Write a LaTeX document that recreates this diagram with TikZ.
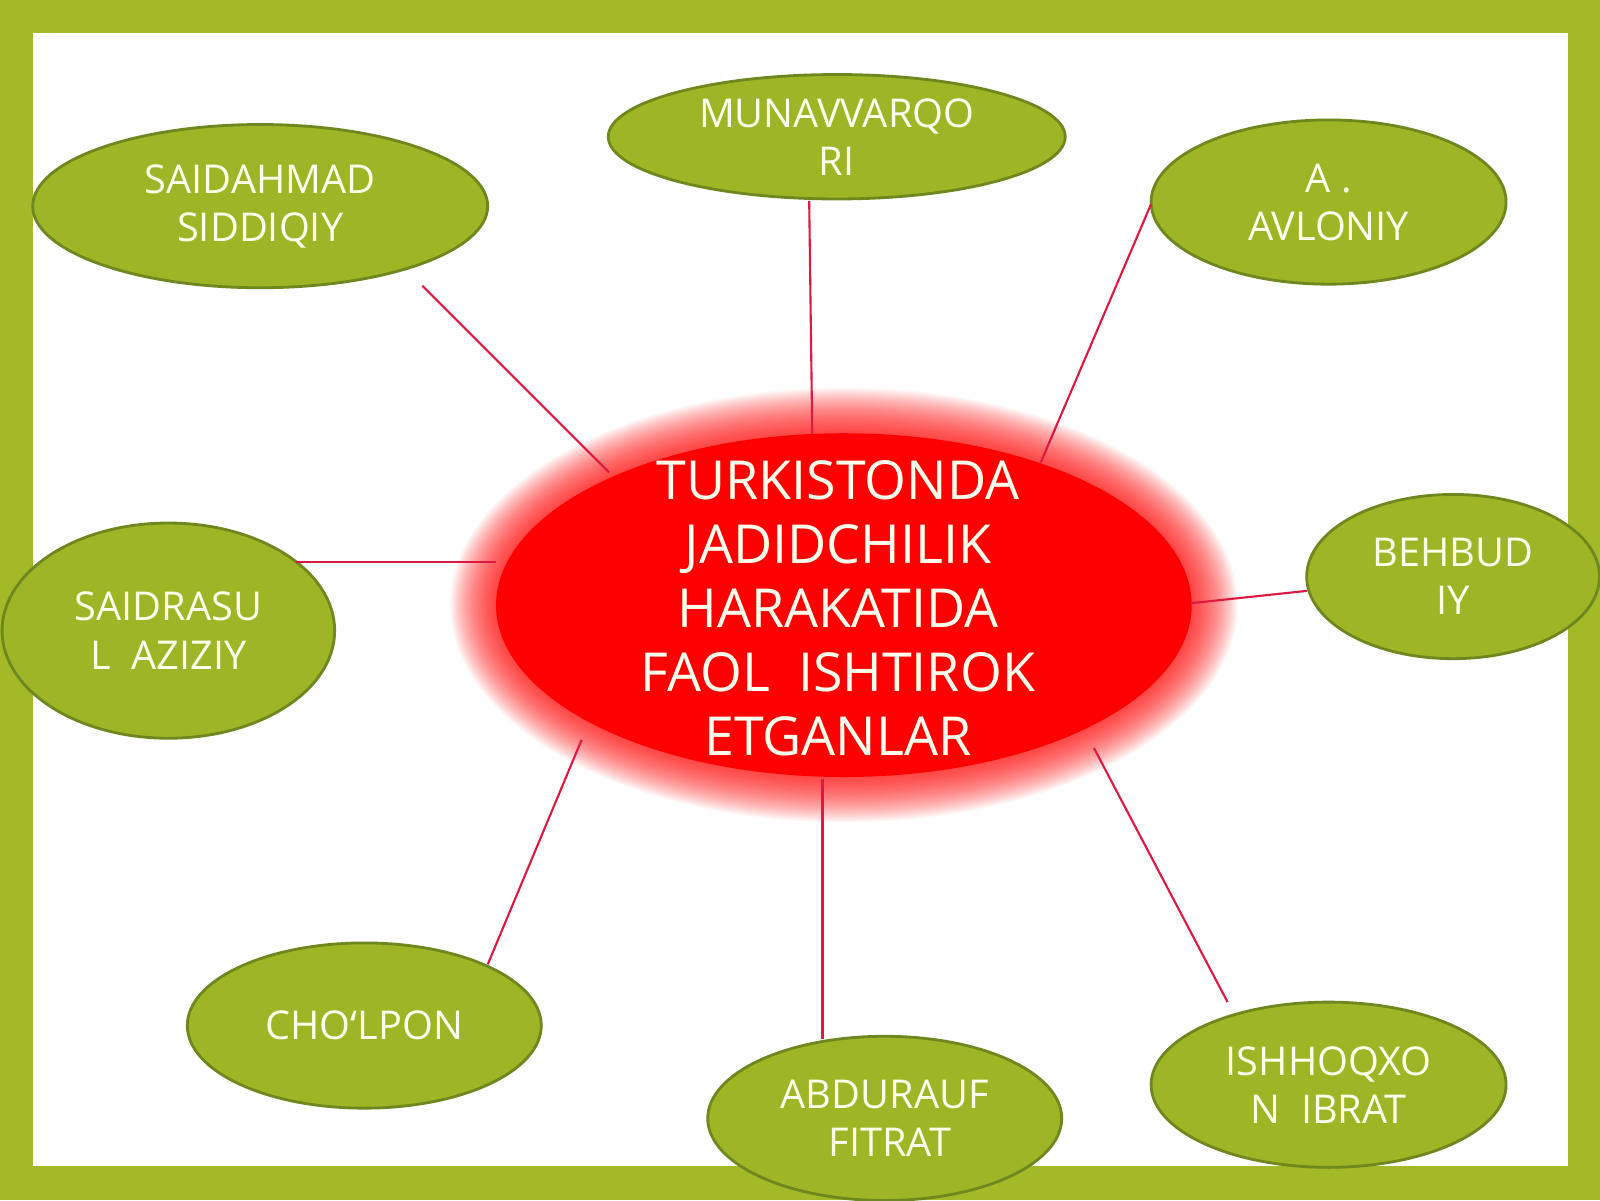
\documentclass[tikz,border=0pt]{standalone}
\usepackage{fontspec}
\setmainfont{Open Sans}
\usetikzlibrary{shapes.geometric}
\definecolor{framegreen}{RGB}{163,185,40}
\definecolor{ovalgreen}{RGB}{158,182,38}
\definecolor{ovaledge}{RGB}{110,135,30}
\definecolor{linkred}{RGB}{222,24,64}
\definecolor{labelwhite}{RGB}{255,255,238}
\definecolor{hubred}{RGB}{255,0,0}
\tikzset{
  person/.style={ellipse, fill=ovalgreen, draw=ovaledge, line width=0.8pt, inner sep=0pt,
    text=labelwhite, align=center, font=\fontsize{11.3}{13.7}\selectfont},
  hub/.style={ellipse, fill=hubred, inner sep=0pt, minimum width=6.959cm, minimum height=3.439cm},
  hubtext/.style={text=labelwhite, align=center, inner sep=0pt, xshift=-0.06cm, yshift=-0.03cm,
    font=\fontsize{15.3}{18.2}\selectfont},
  link/.style={draw=linkred, line width=0.6pt}
}
\begin{document}
\begin{tikzpicture}[x=0.010204cm,y=-0.010204cm]
\useasboundingbox (0,0) rectangle (1568,1176);
\fill[framegreen] (0,0) rectangle (1568,1176);
\fill[white] (32,32) rectangle (1537,1143);
% soft glow round the hub
\foreach \i in {0,...,31}{
  \fill[hubred, opacity=0.035] (827,593) ellipse [x radius={(386-1.4*\i)*0.010204cm}, y radius={(213-1.4*\i)*0.010204cm}];
}
\node[hub, label={[hubtext]center:TURKISTONDA\\JADIDCHILIK\\HARAKATIDA\\FAOL\ \ ISHTIROK\\ETGANLAR}] (hub) at (827,593) {};

\node[person, minimum width=4.551cm, minimum height=1.633cm] (e1) at (255,202) {SAIDAHMAD\\SIDDIQIY};
\node[person, minimum width=4.571cm, minimum height=1.245cm] (e2) at (820,134) {MUNAVVARQO\\RI};
\node[person, minimum width=3.551cm, minimum height=1.643cm] (e3) at (1302,198) {A .\\AVLONIY};
\node[person, minimum width=2.929cm, minimum height=1.643cm] (e4) at (1424,565) {BEHBUD\\IY};
\node[person, minimum width=3.327cm, minimum height=2.153cm] (e5) at (165,618) {SAIDRASU\\L\ \ AZIZIY};
\node[person, minimum width=3.541cm, minimum height=1.653cm] (e6) at (357,1005) {CHO\symbol{96}LPON};
\node[person, minimum width=3.541cm, minimum height=1.643cm] (e7) at (867,1096) {ABDURAUF\\\ FITRAT};
\node[person, minimum width=3.551cm, minimum height=1.653cm] (e8) at (1302,1063) {ISHHOQXO\\N\ \ IBRAT};

\draw[link] ([shift={(159,78)}]e1.center) -- ([shift={(-230,-130)}]hub.center);
\draw[link] ([shift={(-27,63)}]e2.center) -- ([shift={(-31,-168)}]hub.center);
\draw[link] ([shift={(-174,2)}]e3.center) -- ([shift={(193,-140)}]hub.center);
\draw[link] ([shift={(-143,14)}]e4.center) -- ([shift={(341,-2)}]hub.center);
\draw[link] ([shift={(125,-67)}]e5.center) -- ([shift={(-341,-42)}]hub.center);
\draw[link] ([shift={(121,-60)}]e6.center) -- ([shift={(-257,132)}]hub.center);
\draw[link] ([shift={(-61,-78)}]e7.center) -- ([shift={(-21,170)}]hub.center);
\draw[link] ([shift={(-99,-81)}]e8.center) -- ([shift={(245,140)}]hub.center);
\end{tikzpicture}
\end{document}
